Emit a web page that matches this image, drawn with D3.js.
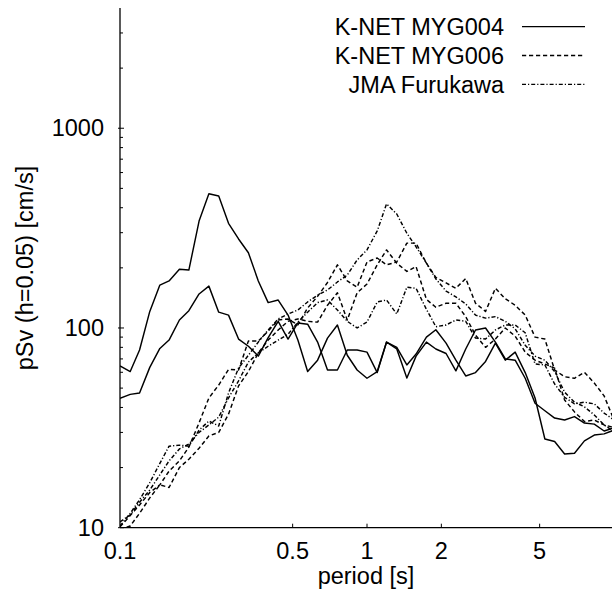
<!DOCTYPE html>
<html>
<head>
<meta charset="utf-8">
<script src="https://cdn.jsdelivr.net/npm/d3@7"></script>
<style>
  html, body { margin: 0; padding: 0; background: #fff; }
  svg { display: block; }
  text { font-family: "Liberation Sans", Arial, Helvetica, sans-serif; fill: #000; }
</style>
</head>
<body>
<svg id="chart" width="612" height="591"></svg>
<script>
// Natural periods [s] at which the spectra are evaluated
const periods = [0.1, 0.11, 0.12, 0.132, 0.145, 0.158, 0.174, 0.19, 0.209, 0.229,
  0.251, 0.275, 0.302, 0.331, 0.363, 0.398, 0.437, 0.479, 0.525, 0.575,
  0.631, 0.692, 0.759, 0.832, 0.912, 1.0, 1.1, 1.2, 1.32, 1.45,
  1.58, 1.74, 1.9, 2.09, 2.29, 2.51, 2.75, 3.02, 3.31, 3.63,
  3.98, 4.37, 4.79, 5.25, 5.75, 6.31, 6.92, 7.59, 8.32, 9.12, 10.0];

// Pseudo velocity response, h = 0.05 [cm/s]
const myg004NS = [64.5, 60.5, 77.6, 121, 164, 172, 197, 195, 343, 470,
  458, 334, 279, 238, 172, 134, 138, 116, 87, 60.5,
  69, 89, 103.5, 73, 61.6, 56, 60.5, 85, 80, 65.3,
  74, 90, 98, 84, 69, 57.5, 59.8, 68, 84, 69,
  75.7, 59.8, 44.6, 27.8, 27, 23.4, 23.6, 27.2, 29.1, 29.5, 30.8];
const myg004EW = [44.5, 46.5, 47.3, 63.5, 79, 87, 109.6, 122, 148, 162,
  120, 116, 88, 81, 72.3, 89.5, 108, 88, 106, 104.5,
  85, 61.6, 61.6, 77.6, 77.6, 75.7, 59.8, 85, 78.5, 56.2,
  72.3, 85, 78.5, 74.5, 61, 78.5, 97.7, 100, 85, 70,
  69, 56, 42, 38.5, 35.4, 34.6, 36, 33.4, 33, 30.5, 31.6];
const myg006NS = [10.1, 11.5, 13, 15, 16.4, 19.2, 21.6, 25.3, 33.5, 44.6,
  51.8, 62, 61.6, 86, 86, 96.5, 109.6, 111, 103.5, 126,
  144, 169, 207, 172, 160, 214, 224, 207, 214, 266,
  266, 211, 179, 168, 158, 177, 133, 121, 158, 140,
  130, 116, 90, 88, 61.6, 57, 56, 60, 53, 45.7, 34.6];
const myg006EW = [9.8, 10.2, 11.8, 14.1, 16.4, 15.9, 20, 22, 25, 28.8,
  30, 37, 51.3, 60.5, 75, 87, 97.7, 108, 111, 108,
  107, 130, 150, 109.6, 150, 166, 207, 246, 211, 192,
  203, 139, 127, 133, 133, 114, 92, 80, 88, 100,
  91, 75.7, 69, 66, 63, 43.6, 38, 34, 34.6, 32.7, 31.7];
const furukawaNS = [10.2, 11.8, 13.8, 16.8, 21, 25.6, 25.9, 25.6, 30.8, 34.2,
  32.3, 47.2, 63, 73, 85, 97.7, 111, 117.5, 123, 135,
  146, 155, 170, 184, 219, 246, 306, 418, 372, 298,
  255, 211, 176, 153, 143, 132, 116, 112, 114, 108,
  99, 82, 72.3, 69, 60.5, 47.7, 42.5, 40.3, 36.7, 32.7, 30.3];
const furukawaEW = [10.7, 11.6, 13.4, 15.45, 18.4, 21.6, 24.8, 26.2, 30, 32.7,
  35.8, 44.6, 54.4, 67.5, 75, 81, 87, 93, 107, 120,
  134, 138, 123, 108, 100, 107, 135, 138, 117.5, 160,
  158, 124, 101.5, 103.5, 109.6, 108, 89, 88, 97.7, 103.5,
  103.5, 94.6, 66, 65.3, 52.4, 45, 41.7, 42.5, 41.7, 37.5, 34.6];

// Legend entries and axis tick labels
const stationNames = ["K-NET MYG004", "K-NET MYG006", "JMA Furukawa"];
const xTickValues = [0.1, 0.5, 1, 2, 5];
const yTickValues = [10, 100, 1000];

const dashStyles = { "K-NET MYG004": null, "K-NET MYG006": "4.2,2.8", "JMA Furukawa": "4,2,1.2,2" };

const series = [
  { station: "K-NET MYG004", values: myg004NS },
  { station: "K-NET MYG004", values: myg004EW },
  { station: "K-NET MYG006", values: myg006NS },
  { station: "K-NET MYG006", values: myg006EW },
  { station: "JMA Furukawa", values: furukawaNS },
  { station: "JMA Furukawa", values: furukawaEW }
];

const svg = d3.select("#chart");
const plotLeft = 120, plotRight = 614, plotTop = 8, plotBottom = 527.7;

const x = d3.scaleLog().domain([0.1, 10]).range([plotLeft, plotRight]);
const y = d3.scaleLog().domain([10, 4000]).range([plotBottom, plotTop]);

// clip the spectra to the plotting area
svg.append("defs").append("clipPath").attr("id", "plot-area")
  .append("rect").attr("x", plotLeft).attr("y", plotTop)
  .attr("width", plotRight - plotLeft).attr("height", plotBottom - plotTop);

const line = d3.line()
  .x(d => x(d[0]))
  .y(d => y(d[1]));

svg.append("g").attr("clip-path", "url(#plot-area)")
  .selectAll("path").data(series).join("path")
  .attr("d", s => line(periods.map((p, i) => [p, s.values[i]])))
  .attr("fill", "none")
  .attr("stroke", "#000")
  .attr("stroke-width", 1.45)
  .attr("stroke-linejoin", "round")
  .attr("stroke-dasharray", s => dashStyles[s.station]);

// y axis: decade labels, minor ticks pointing inward
const yAxis = svg.append("g");
yAxis.append("line").attr("x1", plotLeft).attr("x2", plotLeft)
  .attr("y1", y(4000)).attr("y2", plotBottom)
  .attr("stroke", "#000").attr("stroke-width", 1.3);
const minorY = y.ticks().filter(v => !yTickValues.includes(v) && v < 4000);
yAxis.selectAll("line.minor").data(minorY).join("line").attr("class", "minor")
  .attr("x1", plotLeft).attr("x2", plotLeft + 3)
  .attr("y1", d => y(d)).attr("y2", d => y(d))
  .attr("stroke", "#000").attr("stroke-width", 1);
yAxis.selectAll("line.major").data(yTickValues).join("line").attr("class", "major")
  .attr("x1", plotLeft - 2).attr("x2", plotLeft + 4)
  .attr("y1", d => y(d)).attr("y2", d => y(d))
  .attr("stroke", "#000").attr("stroke-width", 1);
yAxis.selectAll("text").data(yTickValues).join("text")
  .attr("x", 104).attr("y", d => y(d)).attr("dy", "0.35em")
  .attr("text-anchor", "end").attr("font-size", 23.5)
  .text(d => d);

// x axis
const xAxis = svg.append("g");
xAxis.append("line").attr("x1", plotLeft).attr("x2", 612)
  .attr("y1", plotBottom).attr("y2", plotBottom)
  .attr("stroke", "#000").attr("stroke-width", 1.3);
xAxis.selectAll("line.tick").data(xTickValues.slice(1)).join("line").attr("class", "tick")
  .attr("x1", d => x(d)).attr("x2", d => x(d))
  .attr("y1", plotBottom).attr("y2", plotBottom - 4)
  .attr("stroke", "#000").attr("stroke-width", 1);
xAxis.selectAll("text").data(xTickValues).join("text")
  .attr("x", d => x(d)).attr("y", 558.5)
  .attr("text-anchor", "middle").attr("font-size", 23.5)
  .text(d => d);

// axis titles
svg.append("text").attr("x", 366).attr("y", 584)
  .attr("text-anchor", "middle").attr("font-size", 23.5)
  .text("period [s]");
svg.append("text")
  .attr("transform", "translate(33,268) rotate(-90)")
  .attr("text-anchor", "middle").attr("font-size", 23.5)
  .text("pSv (h=0.05) [cm/s]");

// legend
const legend = svg.append("g");
stationNames.forEach((name, i) => {
  const base = 35 + i * 28.8;
  legend.append("text").attr("x", 504).attr("y", base)
    .attr("text-anchor", "end").attr("font-size", 23.5).text(name);
  legend.append("line").attr("x1", 522).attr("x2", 585)
    .attr("y1", base - 8.3).attr("y2", base - 8.3)
    .attr("stroke", "#000").attr("stroke-width", 1.3)
    .attr("stroke-dasharray", dashStyles[name]);
});
</script>
</body>
</html>
